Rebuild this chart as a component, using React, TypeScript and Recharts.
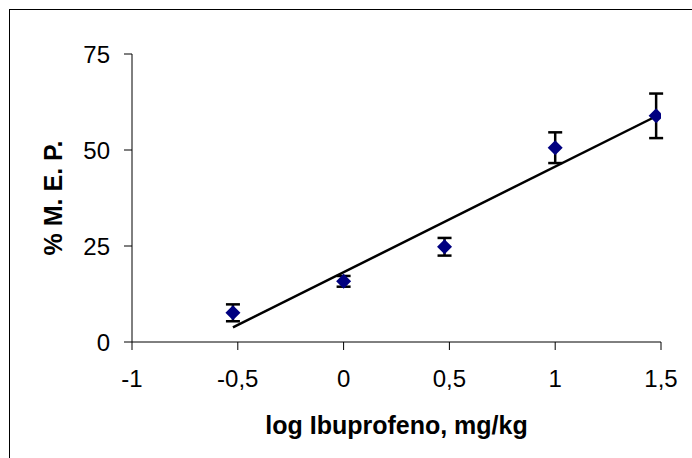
import React from "react";
import { ScatterChart, Scatter, XAxis, YAxis, ErrorBar, Label } from "recharts";

// log dose (mg/kg) and response (% M.E.P.) with SEM
const logDoses = [-0.523, 0, 0.477, 1, 1.477];
const meanValues = [7.6, 15.8, 24.8, 50.6, 58.9];
const errValues = [2.2, 1.4, 2.3, 4.0, 5.8];
const xTicks = [-1, -0.5, 0, 0.5, 1, 1.5];
const yTicks = [0, 25, 50, 75];
const xTitle = "log Ibuprofeno, mg/kg";
const yTitle = "% M. E. P.";

const points = logDoses.map((x, i) => ({ x, y: meanValues[i], err: errValues[i] }));

// least-squares trend line through the points
const n = logDoses.length;
const mx = logDoses.reduce((a, b) => a + b, 0) / n;
const my = meanValues.reduce((a, b) => a + b, 0) / n;
let sxy = 0;
let sxx = 0;
logDoses.forEach((x, i) => {
  sxy += (x - mx) * (meanValues[i] - my);
  sxx += (x - mx) * (x - mx);
});
const slope = sxy / sxx;
const intercept = my - slope * mx;
const fitData = [logDoses[0], logDoses[n - 1]].map((x) => ({ x, y: intercept + slope * x }));

const FONT = '"Liberation Sans", Arial, sans-serif';
const fmt = (v: number) => String(v).replace(".", ",");

const Diamond = (props: any) => {
  const { cx, cy } = props;
  if (cx == null || cy == null) return <g />;
  const r = 7.5;
  return (
    <polygon
      points={`${cx},${cy - r} ${cx + r},${cy} ${cx},${cy + r} ${cx - r},${cy}`}
      fill="#000080"
    />
  );
};

const Empty = () => <g />;

const YTitle = (props: any) => {
  const vb = props.viewBox || {};
  const x = (vb.x ?? 0) + 53;
  const y = (vb.y ?? 0) + (vb.height ?? 0) / 2;
  return (
    <text
      x={x}
      y={y}
      transform={`rotate(-90, ${x}, ${y})`}
      textAnchor="middle"
      dominantBaseline="central"
      fontFamily={FONT}
      fontWeight="bold"
      fontSize={25}
      fill="#000"
    >
      {yTitle}
    </text>
  );
};

const XTitle = (props: any) => {
  const vb = props.viewBox || {};
  const x = (vb.x ?? 0) + (vb.width ?? 0) / 2;
  const y = (vb.y ?? 0) + 83;
  return (
    <text
      x={x}
      y={y}
      textAnchor="middle"
      dominantBaseline="central"
      fontFamily={FONT}
      fontWeight="bold"
      fontSize={25}
      fill="#000"
    >
      {xTitle}
    </text>
  );
};

export default function App() {
  return (
    <div
      style={{
        position: "fixed",
        left: 0,
        top: 0,
        width: 692,
        height: 458,
        overflow: "hidden",
        background: "#fff",
      }}
    >
      <div
        style={{
          position: "absolute",
          left: 9,
          top: 9,
          width: 720,
          height: 520,
          border: "1px solid #000",
        }}
      />
      <div style={{ position: "absolute", left: 0, top: 0 }}>
        <ScatterChart
          width={692}
          height={458}
          margin={{ top: 54, right: 31, left: 0, bottom: 0 }}
        >
          <XAxis
            type="number"
            dataKey="x"
            domain={[-1, 1.5]}
            ticks={xTicks}
            tickFormatter={fmt}
            height={116}
            axisLine={{ stroke: "#000", strokeWidth: 1 }}
            tickLine={{ stroke: "#000", strokeWidth: 1 }}
            tickSize={8}
            tickMargin={20}
            tick={{ fill: "#000", fontSize: 24, fontFamily: FONT }}
            allowDataOverflow
          >
            <Label content={<XTitle />} />
          </XAxis>
          <YAxis
            type="number"
            dataKey="y"
            domain={[0, 75]}
            ticks={yTicks}
            width={132}
            axisLine={{ stroke: "#000", strokeWidth: 1 }}
            tickLine={{ stroke: "#000", strokeWidth: 1 }}
            tickSize={8}
            tickMargin={14}
            tick={{ fill: "#000", fontSize: 24, fontFamily: FONT }}
            allowDataOverflow
          >
            <Label content={<YTitle />} />
          </YAxis>
          <Scatter
            data={fitData}
            line={{ stroke: "#000", strokeWidth: 2.5 }}
            shape={<Empty />}
            isAnimationActive={false}
          />
          <Scatter data={points} shape={<Diamond />} isAnimationActive={false}>
            <ErrorBar
              dataKey="err"
              direction="y"
              width={7}
              stroke="#000"
              strokeWidth={2.5}
              isAnimationActive={false}
            />
          </Scatter>
        </ScatterChart>
      </div>
    </div>
  );
}
